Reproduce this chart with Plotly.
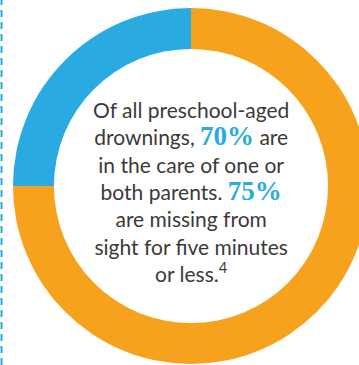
import plotly.graph_objects as go

# Data
labels = ["Missing from sight > 5 min", "Missing from sight ≤ 5 min"]
values = [25, 75]
colors = ["#29abe2", "#f7a21c"]

text_lines = [
    "Of all preschool-aged",
    "drownings, {p1} are",
    "in the care of one or",
    "both parents. {p2}",
    "are missing from",
    "sight for five minutes",
    "or less.<sup>4</sup>",
]
pct_parents = "70%"
pct_missing = "75%"

W, H = 369, 365

fig = go.Figure()
fig.add_trace(go.Pie(
    labels=labels,
    values=values,
    marker=dict(colors=colors, line=dict(width=0)),
    hole=0.77,
    sort=False,
    direction="counterclockwise",
    rotation=-90,
    textinfo="none",
    hoverinfo="skip",
    showlegend=False,
    domain=dict(x=[13 / W, 1.0], y=[1 / H, 357 / H]),
))

span = "<span style='font-family:Liberation Serif;font-weight:bold;font-size:27px;color:#29abe2'>{}</span>"
txt = "<br>".join(text_lines).format(p1=span.format(pct_parents), p2=span.format(pct_missing))

fig.add_annotation(
    x=191 / W, y=1 - 192 / H, xref="paper", yref="paper",
    text=txt, showarrow=False, align="center",
    font=dict(family="Lato", size=21, color="#3a3a3a"),
)

fig.add_shape(
    type="line", xref="paper", yref="paper",
    x0=1.5 / W, x1=1.5 / W, y0=0, y1=1,
    line=dict(color="#29abe2", width=2, dash="7px,5px"),
)

fig.update_layout(
    width=W, height=H,
    margin=dict(l=0, r=0, t=0, b=0),
    paper_bgcolor="white", plot_bgcolor="white",
)

fig.write_html("out.html")
